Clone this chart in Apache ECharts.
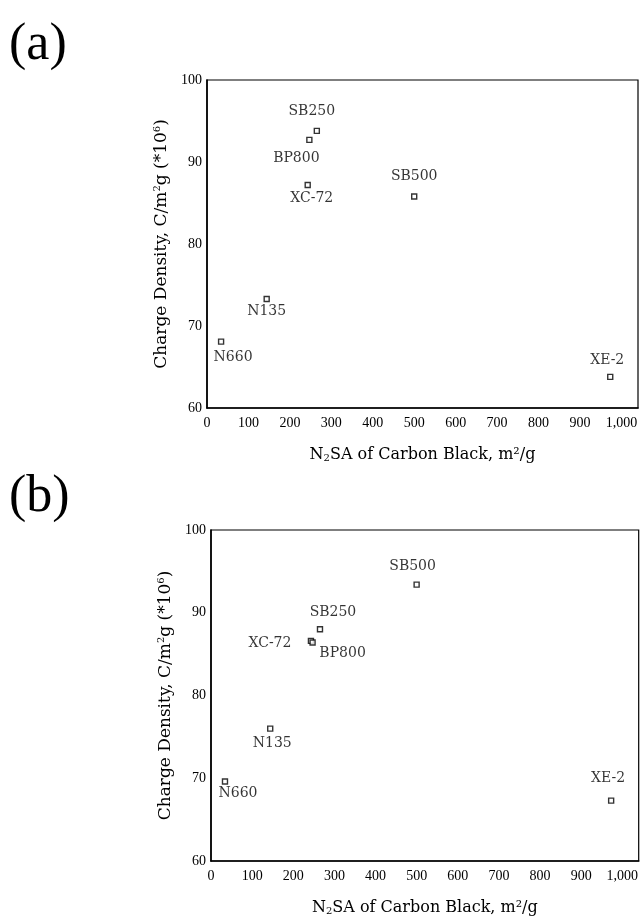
<!DOCTYPE html>
<html>
<head>
<meta charset="utf-8">
<title>Charge density vs N2SA</title>
<script src="https://cdn.jsdelivr.net/npm/echarts@6/dist/echarts.min.js"></script>
<style>
  html, body { margin: 0; padding: 0; background: #fff; }
  #chart { width: 641px; height: 919px; }
</style>
</head>
<body>
<div id="chart"></div>
<script>
// carbon blacks and their N2SA (m2/g)
var grades = ["N660", "N135", "XC-72", "BP800", "SB250", "SB500", "XE-2"];
var surfaceArea = [34, 144, 243, 247, 265, 500, 973];
// charge density, C/m2g (*10^6)
var chargeA = [68.1, 73.3, 87.2, 92.7, 93.8, 85.8, 63.8];
var chargeB = [69.6, 76.0, 86.6, 86.4, 88.0, 93.4, 67.3];
var xTicks = [0, 100, 200, 300, 400, 500, 600, 700, 800, 900, 1000];
var yTicks = [60, 70, 80, 90, 100];

// label offsets from the marker (px)
var labelOffA = [[12, 16], [0, 12], [4, 13], [-13, 18], [-5, -19], [0, -20], [-3, -16]];
var labelOffB = [[13, 12], [2, 15], [-41, 2], [30, 11], [13, -17], [-4, -18], [-3, -22]];

var serif = "Liberation Serif";
var wide = "DejaVu Serif";

function points(ys, offs) {
  return grades.map(function (g, i) {
    return {
      name: g,
      value: [surfaceArea[i], ys[i]],
      label: { offset: offs[i] }
    };
  });
}

function xAxisFor(idx) {
  return {
    gridIndex: idx,
    type: "value",
    min: xTicks[0],
    max: 1040,
    interval: xTicks[1] - xTicks[0],
    splitLine: { show: false },
    axisTick: { show: false },
    axisLine: { lineStyle: { color: "#000", width: 1.6 } },
    axisLabel: {
      showMaxLabel: false,
      margin: 8,
      color: "#000",
      fontFamily: serif,
      fontSize: 14,
      formatter: function (v) {
        return v > xTicks[xTicks.length - 1] ? "" : String(v).replace(/\B(?=(\d{3})+(?!\d))/g, ",");
      }
    },
    name: "N{sub|2}SA of Carbon Black, m²/g",
    nameLocation: "middle",
    nameGap: 39,
    nameTextStyle: {
      color: "#000",
      fontFamily: wide,
      fontSize: 16,
      rich: {
        sub: { fontFamily: wide, fontSize: 10, padding: [6, 0, 0, 0], color: "#000" }
      }
    }
  };
}

function yAxisFor(idx) {
  return {
    gridIndex: idx,
    type: "value",
    min: yTicks[0],
    max: yTicks[yTicks.length - 1],
    interval: yTicks[1] - yTicks[0],
    splitLine: { show: false },
    axisTick: { show: false },
    axisLine: { lineStyle: { color: "#000", width: 1.6 } },
    axisLabel: { margin: 5, color: "#000", fontFamily: serif, fontSize: 14 },
    name: "Charge Density, C/m{sup|2}g (*10{sup|6})",
    nameLocation: "middle",
    nameGap: 33,
    nameTextStyle: {
      color: "#000",
      fontFamily: wide,
      fontSize: 17,
      rich: {
        sup: { fontFamily: wide, fontSize: 10, padding: [0, 0, 8, 0], color: "#000" }
      }
    }
  };
}

function scatterFor(idx, ys, offs) {
  return {
    type: "scatter",
    xAxisIndex: idx,
    yAxisIndex: idx,
    symbol: "rect",
    symbolSize: 5,
    itemStyle: { color: "#fff", borderColor: "#000", borderWidth: 1.4 },
    label: {
      show: true,
      position: "inside",
      formatter: "{b}",
      color: "#000",
      fontFamily: wide,
      fontSize: 14
    },
    emphasis: { disabled: true },
    data: points(ys, offs)
  };
}

var chart = echarts.init(document.getElementById("chart"));
chart.setOption({
  backgroundColor: "#fff",
  animation: false,
  title: [
    { text: "(a)", left: 4, top: 14, textStyle: { fontFamily: serif, fontSize: 52, fontWeight: "normal", color: "#000" } },
    { text: "(b)", left: 4, top: 466, textStyle: { fontFamily: serif, fontSize: 52, fontWeight: "normal", color: "#000" } }
  ],
  grid: [
    { left: 207, top: 80, width: 431, height: 328, show: true, borderColor: "#000", borderWidth: 1.2 },
    { left: 211, top: 530, width: 429, height: 331, show: true, borderColor: "#000", borderWidth: 1.2 }
  ],
  xAxis: [xAxisFor(0), xAxisFor(1)],
  yAxis: [yAxisFor(0), yAxisFor(1)],
  series: [
    scatterFor(0, chargeA, labelOffA),
    scatterFor(1, chargeB, labelOffB)
  ]
});
</script>
</body>
</html>
